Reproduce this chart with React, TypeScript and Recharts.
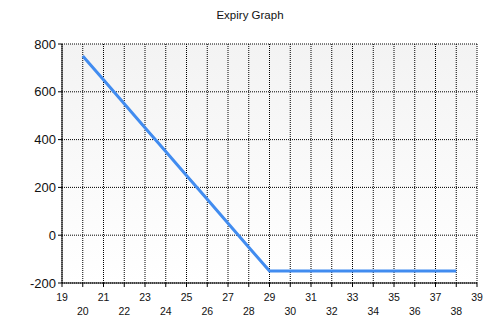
import { CartesianGrid, Line, LineChart, XAxis, YAxis } from 'recharts'

const strikes = [20, 21, 22, 23, 24, 25, 26, 27, 28, 29, 30, 31, 32, 33, 34, 35, 36, 37, 38]
const payoff = [750, 650, 550, 450, 350, 250, 150, 50, -50, -150, -150, -150, -150, -150, -150, -150, -150, -150, -150]
const xTicks = [19, 20, 21, 22, 23, 24, 25, 26, 27, 28, 29, 30, 31, 32, 33, 34, 35, 36, 37, 38, 39]
const yTicks = [-200, 0, 200, 400, 600, 800]

const data = strikes.map((s, i) => ({ strike: s, value: payoff[i] }))

const font = '"Liberation Sans", Arial, sans-serif'

// odd strikes on the first row, even ones staggered underneath
function StaggeredTick(props: any) {
  const { x, y, payload } = props
  const low = payload.value % 2 === 0
  return (
    <text x={x} y={y} dy={low ? 28 : 14} textAnchor="middle" fontSize={10.5} fill="#111" fontFamily={font}>
      {payload.value}
    </text>
  )
}

export default function App() {
  return (
    <div style={{ position: 'absolute', left: 0, top: 0, width: 500, height: 333, background: '#fff' }}>
      <div
        style={{
          position: 'absolute',
          top: 9,
          width: 500,
          textAlign: 'center',
          fontFamily: font,
          fontSize: 11.5,
          color: '#111',
        }}
      >
        Expiry Graph
      </div>
      <LineChart width={500} height={333} data={data} margin={{ top: 44, right: 23, left: 0, bottom: 0 }}>
        <defs>
          <linearGradient id="plotBg" x1="0" y1="0" x2="0" y2="1">
            <stop offset="0%" stopColor="#f3f3f3" />
            <stop offset="100%" stopColor="#ffffff" />
          </linearGradient>
        </defs>
        <CartesianGrid stroke="#000" strokeDasharray="1 1" fill="url(#plotBg)" fillOpacity={1} />
        <XAxis
          dataKey="strike"
          type="number"
          domain={[19, 39]}
          ticks={xTicks}
          interval={0}
          height={50}
          tickSize={4}
          tickMargin={0}
          stroke="#000"
          tick={<StaggeredTick />}
        />
        <YAxis
          type="number"
          domain={[-200, 800]}
          ticks={yTicks}
          width={62}
          tickSize={4}
          tickMargin={2}
          stroke="#000"
          tick={{ fontSize: 13, fill: '#111', fontFamily: font }}
        />
        <Line
          type="linear"
          dataKey="value"
          stroke="#418cf0"
          strokeWidth={3}
          dot={false}
          isAnimationActive={false}
        />
      </LineChart>
    </div>
  )
}
